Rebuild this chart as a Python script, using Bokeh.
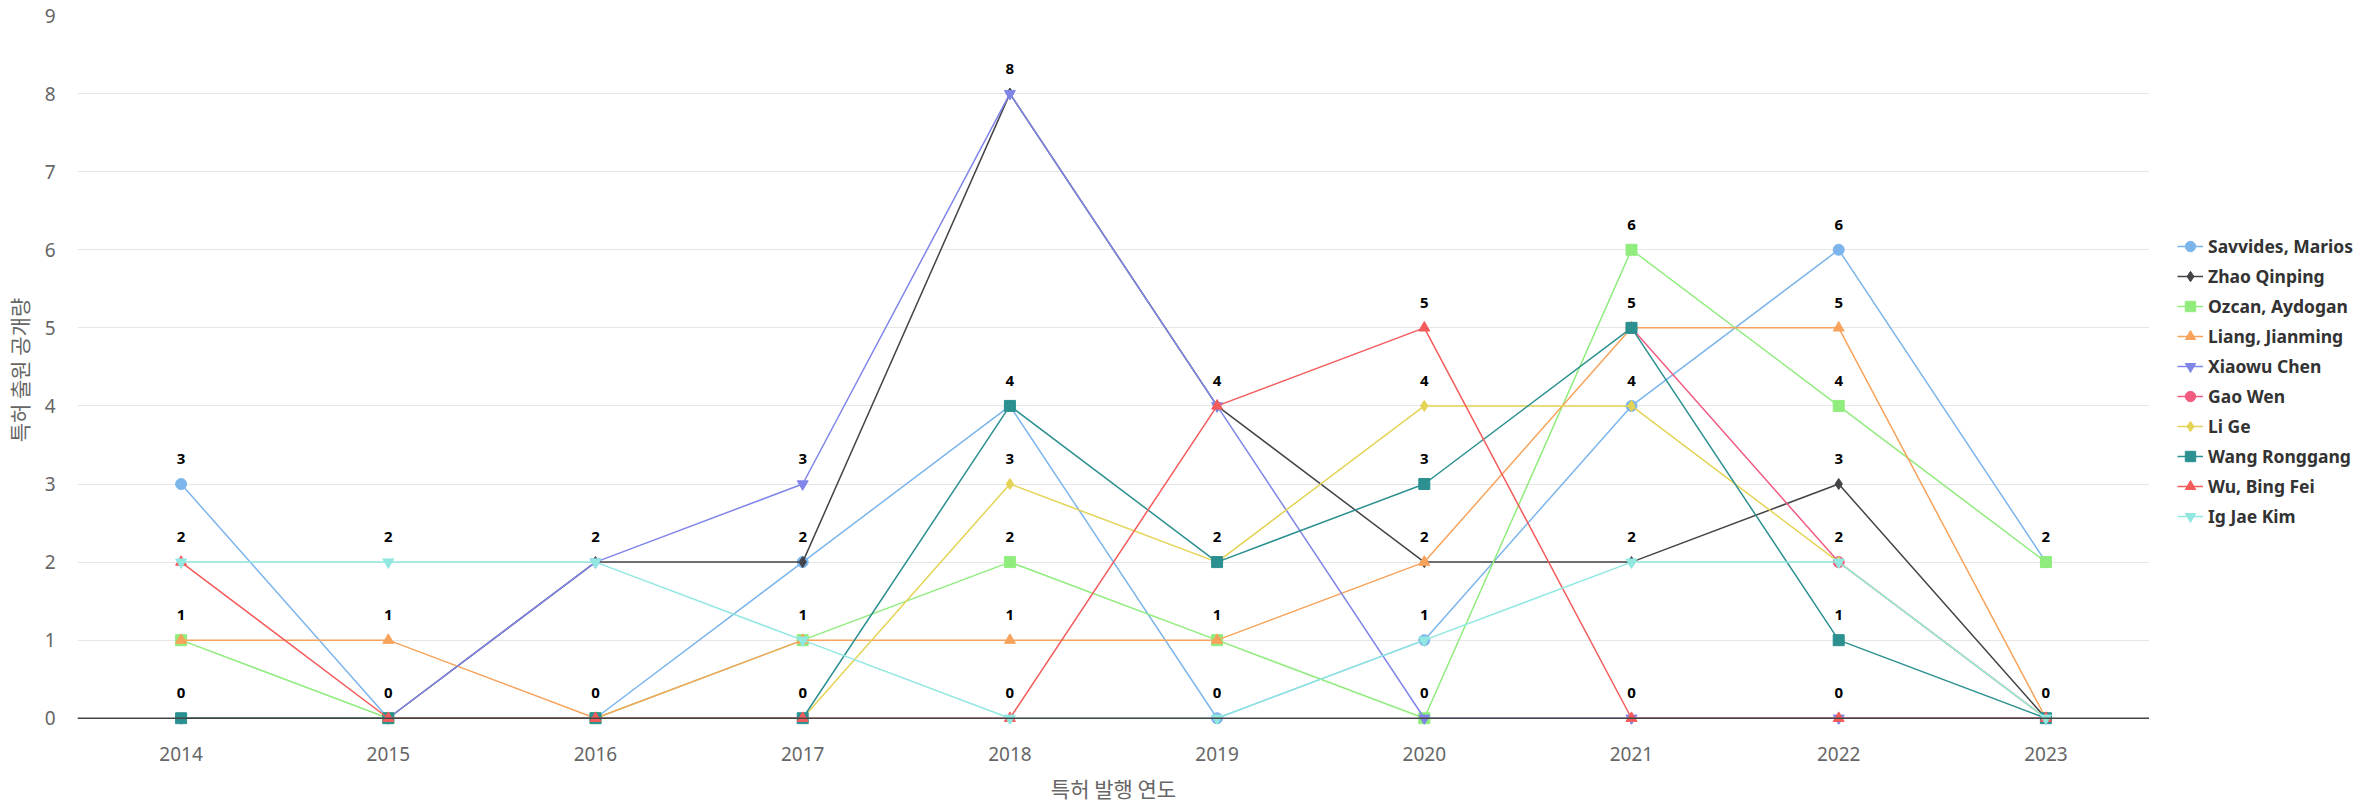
import math
from bokeh.plotting import figure
from bokeh.layouts import row
from bokeh.models import (Range1d, FactorRange, Span, Legend, LegendItem, ColumnDataSource,
                          LabelSet, FixedTicker)
from bokeh.core.properties import value
from bokeh.embed import file_html
from bokeh.resources import INLINE

NaN = float("nan")

years = ["2014", "2015", "2016", "2017", "2018", "2019", "2020", "2021", "2022", "2023"]

series_names = ["Savvides, Marios", "Zhao Qinping", "Ozcan, Aydogan", "Liang, Jianming",
                "Xiaowu Chen", "Gao Wen", "Li Ge", "Wang Ronggang", "Wu, Bing Fei", "Ig Jae Kim"]

savvides = [3, 0, 0, 2, 4, 0, 1, 4, 6, 2]
zhao = [0, 0, 2, 2, 8, 4, 2, 2, 3, 0]
ozcan = [1, 0, 0, 1, 2, 1, 0, 6, 4, 2]
liang = [1, 1, 0, 1, 1, 1, 2, 5, 5, 0]
xiaowu = [0, 0, 2, 3, 8, 4, 0, 0, 0, 0]
gao = [NaN, NaN, NaN, NaN, NaN, NaN, NaN, 5, 2, 0]
lige = [0, 0, 0, 0, 3, 2, 4, 4, 2, 0]
wang = [0, 0, 0, 0, 4, 2, 3, 5, 1, 0]
wu = [2, 0, 0, 0, 0, 4, 5, 0, 0, 0]
igjae = [2, 2, 2, 1, 0, 0, 1, 2, 2, 0]

series_values = [savvides, zhao, ozcan, liang, xiaowu, gao, lige, wang, wu, igjae]

colors = ["#7cb5ec", "#434348", "#90ed7d", "#f7a35c", "#8085e9",
          "#f15c80", "#e4d354", "#2b908f", "#f45b5b", "#91e8e1"]
markers = ["circle", "diamond", "square", "triangle", "inverted_triangle",
           "circle", "diamond", "square", "triangle", "inverted_triangle"]

x_title = "특허 발행 연도"
y_title = "특허 출원 공개량"

LATIN = "Noto Sans"
KOREAN = "Noto Sans CJK KR"

H = 805

p = figure(width=2149, height=H, output_backend="svg", toolbar_location=None,
           x_range=FactorRange(*years), y_range=Range1d(-0.08, 9),
           min_border_left=71, min_border_right=0, min_border_top=15,
           min_border_bottom=H - 724)
p.outline_line_color = None
p.background_fill_color = "white"
p.border_fill_color = "white"

# grid
p.xgrid.grid_line_color = None
p.ygrid.grid_line_color = "#e6e6e6"
p.ygrid.grid_line_width = 1
p.yaxis.ticker = FixedTicker(ticks=list(range(0, 10)))

# axes
for ax in (p.xaxis[0], p.yaxis[0]):
    ax.axis_line_color = None
    ax.major_tick_line_color = None
    ax.minor_tick_line_color = None
    ax.major_tick_out = 0
    ax.major_tick_in = 0
    ax.major_label_text_color = "#666666"
    ax.major_label_text_font = LATIN
    ax.major_label_text_font_size = "19px"
    ax.axis_label_text_color = "#666666"
    ax.axis_label_text_font = KOREAN
    ax.axis_label_text_font_size = "21px"
    ax.axis_label_text_font_style = "normal"

p.xaxis.axis_label = x_title
p.yaxis.axis_label = y_title
p.xaxis.major_label_standoff = 22
p.xaxis.axis_label_standoff = 9
p.yaxis.major_label_standoff = 22
p.yaxis.axis_label_standoff = 8

# baseline axis line at 0
p.add_layout(Span(location=0, dimension="width", line_color="#444444", line_width=1.5))

for name, vals, col, mk in zip(series_names, series_values, colors, markers):
    src = ColumnDataSource(dict(x=years, y=vals))
    p.line("x", "y", source=src, line_color=col, line_width=1.5)
    p.scatter("x", "y", source=src, marker=mk, size=11, fill_color=col,
              line_color=col, line_width=1)

# data labels: one per distinct value at each year
lx, ly, lt = [], [], []
for i, yr in enumerate(years):
    seen = set()
    for vals in series_values:
        v = vals[i]
        if v is None or (isinstance(v, float) and math.isnan(v)):
            continue
        if v not in seen:
            seen.add(v)
            lx.append(yr)
            ly.append(v)
            lt.append(str(int(v)))
lsrc = ColumnDataSource(dict(x=lx, y=ly, t=lt))
p.add_layout(LabelSet(x="x", y="y", text="t", source=lsrc, y_offset=25,
                      text_align="center", text_baseline="middle",
                      text_font=value(LATIN), text_font_size="15px",
                      text_font_style="bold", text_color="#000000"))

# legend panel (separate figure to the right of the plot area)
q = figure(width=2361 - 2149, height=H, output_backend="svg", toolbar_location=None,
           x_range=Range1d(0, 1), y_range=Range1d(0, 1),
           min_border_left=0, min_border_right=0, min_border_top=0, min_border_bottom=0)
q.axis.visible = False
q.grid.visible = False
q.outline_line_color = None
q.background_fill_color = "white"
q.border_fill_color = "white"

legend_items = []
for name, col, mk in zip(series_names, colors, markers):
    dsrc = ColumnDataSource(dict(x=[NaN], y=[NaN]))
    r1 = q.line("x", "y", source=dsrc, line_color=col, line_width=1.5)
    r2 = q.scatter("x", "y", source=dsrc, marker=mk, size=11, fill_color=col,
                   line_color=col, line_width=1)
    legend_items.append(LegendItem(label=name, renderers=[r1, r2]))

legend = Legend(items=legend_items, location=(28, 193), orientation="vertical",
                label_text_font=LATIN, label_text_font_size="17.5px",
                label_text_font_style="bold", label_text_color="#333333",
                glyph_width=26, glyph_height=30, label_height=30, spacing=0,
                padding=0, margin=0, label_standoff=5,
                border_line_color=None, background_fill_alpha=0)
q.add_layout(legend, "center")

layout = row(p, q)
open("out.html", "w").write(file_html(layout, INLINE))
